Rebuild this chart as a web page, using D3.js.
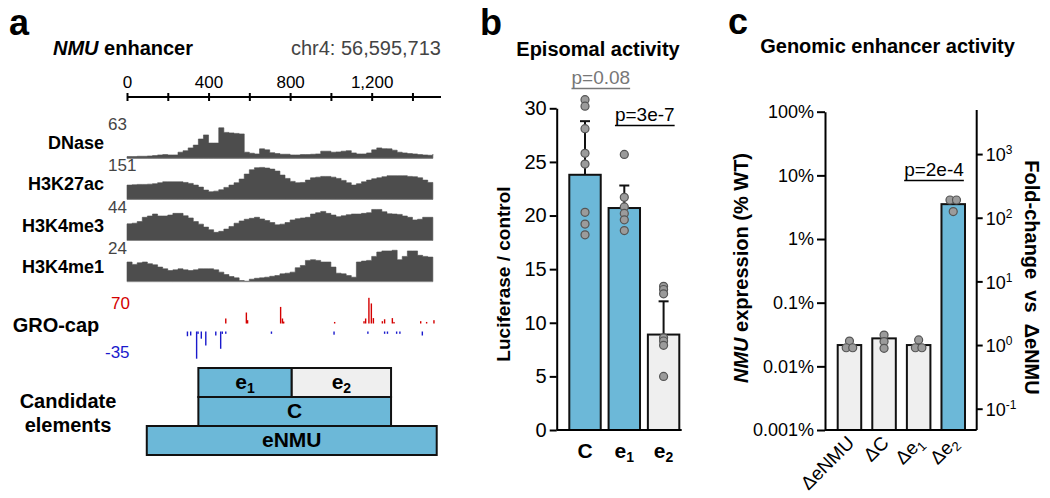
<!DOCTYPE html>
<html><head><meta charset="utf-8">
<script src="https://cdn.jsdelivr.net/npm/d3@7"></script>
<style>
body{margin:0;background:#fff;}
svg text{font-family:"Liberation Sans",Arial,sans-serif;}
</style></head>
<body><svg id="fig" width="1050" height="498"></svg>
<script>
// ---------- DATA ----------
// panel a: genomic tracks (bins of 25 bp starting at 0)
const trackBinStart = d3.range(0, 1501, 25);
const trackNames = ["DNase", "H3K27ac", "H3K4me3", "H3K4me1"];
const trackMax = [63, 151, 44, 24];
const dnase = [3.3,3.3,4,4,4.6,5.3,6.6,7.3,6.6,6.6,12,15,20.5,26,38,46,30,30,60,51,50,49,48,12,10,8.6,18.6,16.6,11,9.3,8,8,6.6,6.6,7.3,7.3,8,8.6,14,14,12,12.6,14,15,10.6,8.6,8.6,10.6,16.6,20.5,19,18.6,16,12,10.6,9.3,8.6,7.3,6.6,6,8];
const h3k27ac = [67.6,69,70.8,70.8,72,74,78.6,83,83,83,83,80,75.5,67.6,58,44,36,39,45.6,56.6,67.6,78.6,96,119.5,140,149.4,151,148,143,133.7,114.8,99,85,78.6,80,91,102,105,108.5,108.5,105,99,89.7,78.6,67.6,74,83,91,97.5,102,107,111.7,111.7,111.7,111.7,108.5,107,102,91,80,75.5];
const h3k4me3 = [22.9,23.8,26,31.9,33.7,36.4,33.7,33.7,35,37.3,37.3,34,31,26,22.5,18.4,14.8,11.2,12.6,15.7,19.3,23.8,26.9,29.2,30.5,31.9,29.6,27.4,24.7,21.5,22.5,24.7,28.3,30,31,31.9,36.4,38.2,40,37.3,35,32.8,34,35.5,36.4,36.4,37.3,38.2,42.7,42.7,39.5,36.8,36.4,35.9,33.7,31.9,28.3,29.2,31.9,31.9,31.9];
const h3k4me1 = [14.7,12.9,14.1,14.7,13.4,12.6,10.9,9.6,8.3,8.8,9.6,8.8,8.3,8.8,9.6,9.6,9.6,8.8,7.1,5.3,3.8,2.8,0.8,0.3,1.8,2.5,2.8,3.3,4,4.5,5.8,6.3,7.1,10.4,12.1,15.9,16.4,15.9,14.7,14.7,10.9,6.3,5.8,4.5,3.3,14.7,15.4,15.9,18.9,22.2,23,23,23.5,16.4,18.9,23,23,19.7,18.9,18.4,15.9];
// GRO-cap signal
const groPlusBp  = [481,582,588,750,759,765,1015,1159,1167,1183,1195,1205,1249,1260,1298,1306,1437,1466,1502];
const groPlusVal = [13,28.5,8.6,43,13,5,4,6,13,66.6,52,14,6,11,14,4,6,4,8.6];
const groMinusBp  = [293,309,338,345,361,383,432,456,464,481,705,1012,1178,1260,1274,1319,1335,1445];
const groMinusVal = [-5.9,-5,-34,-3,-9,-17.5,-5,-21.6,-3,-2.9,-2.9,-4,-2.9,-2.9,-2.9,-2.9,-2.9,-5];
const groMax = 70, groMin = -35;
// candidate elements
const elemNames = ["e1","e2","C","eNMU"];
const elemStart = [350, 808, 350, 97];
const elemEnd   = [808, 1295, 1295, 1519];
const elemRow   = [0, 0, 1, 2];
const elemActive = [true, false, true, true];
const axisATicks = [0,200,400,600,800,1000,1200,1400];
const axisALabelled = [0,400,800,1200];

// panel b: episomal activity
const catsB = ["C","e1","e2"];
const meanB = [23.8, 20.7, 8.9];
const sdB   = [5.0, 2.1, 3.1];
const activeB = [true, true, false];
const pointsB = [
  [30.8,30.2,28.1,25.8,24.8,20.3,19.2,18.2],
  [25.7,21.7,20.8,20.2,19.6,18.6],
  [13.4,13.1,12.7,8.6,8.3,7.9,5.0]
];
const ticksB = [0,5,10,15,20,25,30];

// panel c: genomic enhancer activity (% WT)
const catsC = ["ΔeNMU","ΔC","Δe1","Δe2"];
const meanC = [0.0216, 0.0275, 0.0216, 3.53];
const activeC = [false, false, false, true];
const pointsC = [
  [0.0249,0.0196,0.0196],
  [0.031,0.0245,0.0192],
  [0.026,0.0196,0.0196],
  [4.1,4.1,2.7]
];
const ticksC = [0.001,0.01,0.1,1,10,100];
const tickLabelsC = ["0.001%","0.01%","0.1%","1%","10%","100%"];
const ticksR = [0.1,1,10,100,1000];
const tickExpR = ["-1","0","1","2","3"];

// ---------- DRAW ----------
const svg = d3.select("#fig");
const BLUE = "#6cb8d8", GREY = "#efefef", DOT = "#9b9b9b";

function sub(textSel, base, s, size){
  textSel.append("tspan").text(base);
  if(s) textSel.append("tspan").attr("font-size", size).attr("dy", 4).text(s);
}

// panel letters
[["a",9,35],["b",480,35],["c",728,34]].forEach(([t,x,y])=>
  svg.append("text").attr("x",x).attr("y",y).attr("font-size",36).attr("font-weight","bold").text(t));

// ===== Panel a =====
const xA = d3.scaleLinear().domain([0,1540]).range([127,441]);
const tA = svg.append("text").attr("x",53).attr("y",55).attr("font-size",20).attr("font-weight","bold");
tA.append("tspan").attr("font-style","italic").text("NMU");
tA.append("tspan").text(" enhancer");
svg.append("text").attr("x",441).attr("y",55).attr("text-anchor","end").attr("font-size",20).attr("fill","#444").text("chr4: 56,595,713");

const axTop = svg.append("g").attr("transform","translate(0,97)")
  .call(d3.axisTop(xA).tickValues(axisATicks).tickSize(4).tickPadding(5)
    .tickFormat(d=> axisALabelled.includes(d) ? d3.format(",")(d) : ""));
const axBot = svg.append("g").attr("transform","translate(0,97)")
  .call(d3.axisBottom(xA).tickValues(axisATicks).tickSize(4).tickSizeOuter(0).tickFormat(""));
[axTop, axBot].forEach(g=>{
  g.select(".domain").attr("stroke-width",2).attr("d", `M${xA(0)},0H${xA(1540)}`);
  g.selectAll(".tick line").attr("stroke-width",2);
  g.selectAll("text").attr("font-size",17).attr("fill","#000").attr("font-family","Liberation Sans, Arial, sans-serif");
});

const trackData = [dnase, h3k27ac, h3k4me3, h3k4me1];
trackData.forEach((vals,i)=>{
  const base = 158.3 + i*41.1;
  const y = d3.scaleLinear().domain([0, trackMax[i]]).range([base, base-32]);
  const pts = vals.map((v,j)=>({bp:trackBinStart[j], v}));
  svg.append("path").datum(pts)
    .attr("d", d3.area().x(d=>xA(d.bp)).y0(base).y1(d=>y(d.v)).curve(d3.curveStepAfter))
    .attr("fill","#4d4d4d").attr("stroke","#4d4d4d").attr("stroke-width",0.6);
  svg.append("line").attr("x1",xA(0)).attr("x2",xA(1500)).attr("y1",base).attr("y2",base)
    .attr("stroke","#888").attr("stroke-width",1);
  svg.append("text").attr("x",104).attr("y",base-9).attr("text-anchor","end")
    .attr("font-size",18).attr("font-weight","bold").text(trackNames[i]);
  svg.append("text").attr("x",108).attr("y",base-28).attr("font-size",17).attr("fill","#444").text(trackMax[i]);
});

// GRO-cap
const yPlus = d3.scaleLinear().domain([0,groMax]).range([323.5,296.5]);
const yMinus = d3.scaleLinear().domain([groMin,0]).range([359.5,331.5]);
svg.append("g").selectAll("rect").data(groPlusBp.map((b,i)=>({b,v:groPlusVal[i]}))).join("rect")
  .attr("x",d=>xA(d.b)).attr("width",1.4).attr("y",d=>yPlus(d.v)).attr("height",d=>yPlus(0)-yPlus(d.v))
  .attr("fill","#d40000");
svg.append("g").selectAll("rect").data(groMinusBp.map((b,i)=>({b,v:groMinusVal[i]}))).join("rect")
  .attr("x",d=>xA(d.b)).attr("width",1.4).attr("y",yMinus(0)).attr("height",d=>yMinus(d.v)-yMinus(0))
  .attr("fill","#1a1acc");
svg.append("text").attr("x",111).attr("y",309).attr("font-size",17).attr("fill","#d40000").text(groMax);
svg.append("text").attr("x",105).attr("y",358).attr("font-size",17).attr("fill","#1a1acc").text(groMin);
svg.append("text").attr("x",56).attr("y",332).attr("text-anchor","middle").attr("font-size",20).attr("font-weight","bold").text("GRO-cap");

// candidate elements
const rowTop = r => 368 + r*29;
elemNames.forEach((n,i)=>{
  const x0 = xA(elemStart[i]), x1 = xA(elemEnd[i]), y0 = rowTop(elemRow[i]);
  svg.append("rect").attr("x",x0).attr("y",y0).attr("width",x1-x0).attr("height",29)
    .attr("fill", elemActive[i]?BLUE:GREY).attr("stroke","#111").attr("stroke-width",2);
  const t = svg.append("text").attr("x",(x0+x1)/2).attr("y",y0+21).attr("text-anchor","middle")
    .attr("font-size",21).attr("font-weight","bold");
  if(n.length===2 && n[0]==="e") sub(t,"e",n[1],14); else t.text(n);
});
svg.append("text").attr("x",68).attr("y",408).attr("text-anchor","middle").attr("font-size",20).attr("font-weight","bold").text("Candidate");
svg.append("text").attr("x",68).attr("y",432).attr("text-anchor","middle").attr("font-size",20).attr("font-weight","bold").text("elements");

// ===== Panel b =====
const yB = d3.scaleLinear().domain([0,30]).range([430,108.3]);
const xB = d3.scaleBand().domain(catsB).range([569.3,679.3]).paddingInner(0.2).paddingOuter(0);
svg.append("text").attr("x",598).attr("y",56).attr("text-anchor","middle").attr("font-size",20).attr("font-weight","bold").text("Episomal activity");

const gB = svg.append("g");
catsB.forEach((c,i)=>{
  gB.append("rect").attr("x",xB(c)).attr("width",xB.bandwidth()).attr("y",yB(meanB[i])).attr("height",yB(0)-yB(meanB[i]))
    .attr("fill",activeB[i]?BLUE:GREY).attr("stroke","#111").attr("stroke-width",2);
  const cx = xB(c)+xB.bandwidth()/2, top = yB(meanB[i]+sdB[i]);
  gB.append("line").attr("x1",cx).attr("x2",cx).attr("y1",yB(meanB[i])).attr("y2",top).attr("stroke","#111").attr("stroke-width",2);
  gB.append("line").attr("x1",cx-5).attr("x2",cx+5).attr("y1",top).attr("y2",top).attr("stroke","#111").attr("stroke-width",2);
  gB.selectAll(null).data(pointsB[i]).join("circle").attr("cx",cx).attr("cy",d=>yB(d)).attr("r",4)
    .attr("fill",DOT).attr("stroke","#555").attr("stroke-width",1.2);
  const t = gB.append("text").attr("x",cx).attr("y",458).attr("text-anchor","middle").attr("font-size",21).attr("font-weight","bold");
  if(c.length===2) sub(t,"e",c[1],14); else t.text(c);
});
const axB = svg.append("g").attr("transform","translate(556.7,0)")
  .call(d3.axisLeft(yB).tickValues(ticksB).tickSize(7).tickSizeOuter(0).tickPadding(3));
axB.select(".domain").attr("stroke-width",2);
axB.selectAll(".tick line").attr("stroke-width",2);
axB.selectAll("text").attr("font-size",20).attr("fill","#000").attr("font-family","Liberation Sans, Arial, sans-serif");
svg.append("line").attr("x1",556.7).attr("x2",681.7).attr("y1",430).attr("y2",430).attr("stroke","#000").attr("stroke-width",2);
svg.append("text").attr("transform","translate(510,274) rotate(-90)").attr("text-anchor","middle")
  .attr("font-size",19).attr("font-weight","bold").text("Luciferase / control");

function pval(x,y,txt,color){
  const t = svg.append("text").attr("x",x).attr("y",y).attr("text-anchor","middle").attr("font-size",19).attr("fill",color).text(txt);
  const w = t.node().getComputedTextLength();
  svg.append("line").attr("x1",x-w/2).attr("x2",x+w/2).attr("y1",y+4.5).attr("y2",y+4.5).attr("stroke",color).attr("stroke-width",1.5);
}
pval(600.8,84,"p=0.08","#777");
pval(644.8,121,"p=3e-7","#000");

// ===== Panel c =====
const yC = d3.scaleLog().domain([0.001,100]).range([430,111.7]);
const yR = d3.scaleLog().domain([0.001/meanC[0], 100/meanC[0]]).range([430,111.7]);
const xC = d3.scaleBand().domain(catsC).range([837.7,965]).paddingInner(0.32).paddingOuter(0);
svg.append("text").attr("x",887.5).attr("y",53).attr("text-anchor","middle").attr("font-size",20).attr("font-weight","bold").text("Genomic enhancer activity");

const gC = svg.append("g");
catsC.forEach((c,i)=>{
  gC.append("rect").attr("x",xC(c)).attr("width",xC.bandwidth()).attr("y",yC(meanC[i])).attr("height",yC(0.001)-yC(meanC[i]))
    .attr("fill",activeC[i]?BLUE:GREY).attr("stroke","#111").attr("stroke-width",2);
  const cx = xC(c)+xC.bandwidth()/2;
  // spread identical values side by side
  const counts = d3.rollup(pointsC[i], v=>v.length, d=>d);
  const seen = new Map();
  const pts = pointsC[i].map(v=>{
    const n = counts.get(v), k = seen.get(v)||0; seen.set(v,k+1);
    return {v, dx:(k-(n-1)/2)*6.5};
  });
  gC.selectAll(null).data(pts).join("circle").attr("cx",d=>cx+d.dx).attr("cy",d=>yC(d.v)).attr("r",4)
    .attr("fill",DOT).attr("stroke","#555").attr("stroke-width",1.2);
  const t = gC.append("text").attr("transform",`translate(${cx+6},${444}) rotate(-45)`).attr("text-anchor","end").attr("font-size",19);
  if(c.startsWith("Δe") && c.length===3) sub(t,"Δe",c[2],13); else t.text(c);
});
const axC = svg.append("g").attr("transform","translate(825,0)")
  .call(d3.axisLeft(yC).tickValues(ticksC).tickSize(8).tickSizeOuter(0).tickPadding(3).tickFormat((d,i)=>tickLabelsC[i]));
axC.select(".domain").attr("stroke-width",2);
axC.selectAll(".tick line").attr("stroke-width",2);
axC.selectAll("text").attr("font-size",18).attr("fill","#000").attr("font-family","Liberation Sans, Arial, sans-serif");
const axR = svg.append("g").attr("transform","translate(976.7,0)")
  .call(d3.axisRight(yR).tickValues(ticksR).tickSize(6).tickSizeOuter(0).tickPadding(3).tickFormat(""));
axR.select(".domain").attr("stroke-width",2).attr("d","M0,110V430");
axR.selectAll(".tick line").attr("stroke-width",2);
axR.selectAll(".tick").each(function(d,i){
  const t = d3.select(this).append("text").attr("x",9).attr("dy","0.38em").attr("font-size",18).attr("fill","#000");
  t.append("tspan").text("10");
  t.append("tspan").attr("font-size",12).attr("dy",-7).text(tickExpR[i]);
});
svg.append("line").attr("x1",825).attr("x2",976.7).attr("y1",430).attr("y2",430).attr("stroke","#000").attr("stroke-width",2);
const lblC = svg.append("text").attr("transform","translate(748,268) rotate(-90)").attr("text-anchor","middle").attr("font-size",20).attr("font-weight","bold");
lblC.append("tspan").attr("font-style","italic").text("NMU");
lblC.append("tspan").text(" expression (% WT)");
svg.append("text").attr("transform","translate(1025,277.5) rotate(90)").attr("text-anchor","middle")
  .attr("font-size",20).attr("font-weight","bold").attr("xml:space","preserve").style("white-space","pre").text("Fold-change  vs  ΔeNMU");
pval(934,176,"p=2e-4","#000");
</script></body></html>
